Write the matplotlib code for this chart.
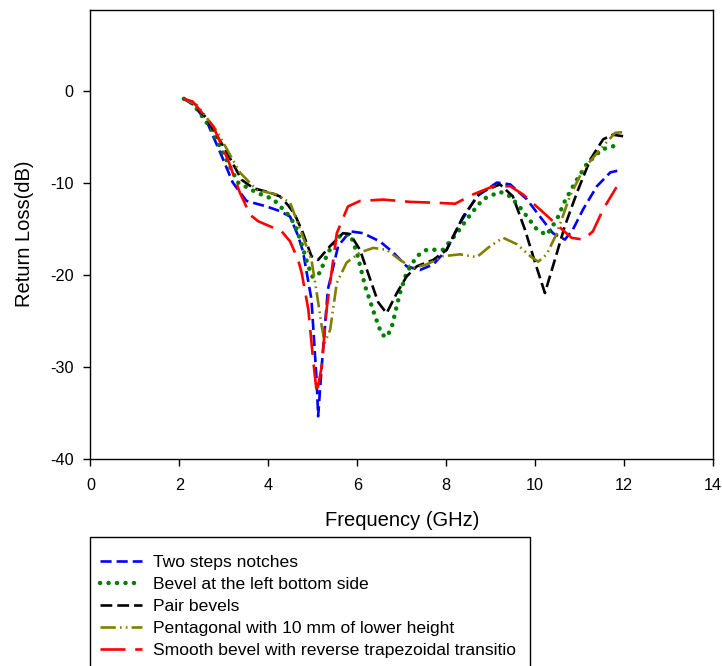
import numpy as np
import matplotlib.pyplot as plt
from matplotlib.patches import Rectangle

plt.rcParams['font.family'] = ['Liberation Sans', 'DejaVu Sans']
plt.rcParams['lines.scale_dashes'] = False
plt.rcParams['axes.unicode_minus'] = False

# Return loss curves (frequency GHz, dB)
blue_f = [2.1, 2.3, 2.61, 2.95, 3.2, 3.51, 3.96, 4.26, 4.49, 4.67, 4.78, 4.97, 5.09, 5.12, 5.2,
          5.34, 5.57, 5.84, 6.13, 6.51, 6.81, 7.11, 7.41, 7.71, 8.01, 8.31, 8.69, 9.14, 9.44,
          9.81, 10.11, 10.4, 10.67, 10.85, 11.08, 11.39, 11.69, 11.95]
blue_db = [-0.9, -1.5, -3.3, -7.1, -10.0, -12.0, -12.6, -13.1, -13.7, -15.8, -17.5, -22.7, -31.8,
           -35.4, -30.0, -21.6, -16.9, -15.3, -15.5, -16.4, -17.6, -19.1, -19.5, -18.9, -17.3,
           -14.4, -11.5, -10.0, -10.2, -11.8, -13.7, -15.5, -16.2, -15.1, -12.9, -10.4, -8.9, -8.6]

green_f = [2.1, 2.3, 2.72, 3.0, 3.32, 3.74, 4.11, 4.45, 4.6, 4.75, 4.9, 5.0, 5.16, 5.34, 5.61,
           5.84, 5.99, 6.18, 6.4, 6.55, 6.66, 6.77, 6.96, 7.11, 7.34, 7.56, 7.93, 8.24, 8.54,
           8.83, 9.21, 9.44, 9.66, 10.04, 10.26, 10.49, 10.67, 10.9, 11.16, 11.5, 11.87]
green_db = [-0.9, -1.4, -4.2, -7.0, -10.0, -11.1, -11.8, -13.5, -14.6, -16.7, -19.1, -20.3, -19.8,
            -17.6, -15.8, -15.6, -17.6, -21.3, -24.5, -26.5, -26.8, -25.8, -22.0, -19.8, -18.0,
            -17.3, -17.3, -15.5, -13.5, -11.8, -11.0, -11.5, -12.7, -15.1, -15.7, -14.0, -12.0,
            -10.0, -8.0, -6.4, -5.9]

black_f = [2.1, 2.3, 2.61, 3.03, 3.4, 3.66, 4.04, 4.26, 4.45, 4.6, 4.78, 4.97, 5.12, 5.39, 5.68,
           5.84, 6.06, 6.29, 6.47, 6.66, 6.89, 7.11, 7.34, 7.71, 8.01, 8.38, 8.76, 9.21, 9.5,
           9.77, 10.0, 10.22, 10.4, 10.67, 10.94, 11.24, 11.53, 11.75, 12.02]
black_db = [-0.9, -1.4, -3.0, -6.4, -9.7, -10.6, -11.1, -11.5, -12.5, -13.5, -15.5, -18.0, -18.4,
            -16.9, -15.5, -15.6, -17.3, -20.5, -23.0, -24.2, -22.0, -20.2, -19.1, -18.4, -17.3,
            -13.7, -11.1, -10.2, -11.5, -15.1, -18.7, -22.0, -19.1, -14.7, -11.1, -7.5, -5.3,
            -4.8, -5.0]

olive_f = [2.1, 2.4, 2.84, 3.36, 3.74, 4.19, 4.49, 4.71, 4.97, 5.09, 5.2, 5.27, 5.39, 5.54, 5.76,
           6.06, 6.36, 6.66, 6.96, 7.25, 7.56, 7.93, 8.31, 8.69, 8.99, 9.28, 9.59, 9.89, 10.07,
           10.26, 10.49, 10.78, 11.08, 11.46, 11.8, 12.02]
olive_db = [-0.9, -1.6, -4.4, -8.9, -10.8, -11.3, -12.2, -15.0, -18.4, -22.0, -25.6, -27.4, -26.0,
            -20.9, -18.7, -17.6, -17.1, -17.3, -18.4, -19.3, -18.9, -18.0, -17.8, -18.1, -16.9,
            -16.0, -16.7, -18.0, -18.6, -17.8, -15.5, -11.5, -8.6, -6.4, -4.6, -4.5]

red_f = [2.1, 2.3, 2.54, 2.76, 3.09, 3.36, 3.59, 3.77, 4.3, 4.49, 4.67, 4.75, 4.9, 5.0, 5.09,
         5.2, 5.31, 5.54, 5.79, 6.06, 6.58, 7.19, 7.79, 8.2, 8.6, 9.06, 9.44, 9.73, 10.15, 10.4,
         10.82, 11.08, 11.3, 11.53, 11.83]
red_db = [-0.9, -1.2, -2.6, -3.9, -7.5, -11.1, -13.5, -14.2, -15.3, -16.4, -18.4, -19.8, -23.8,
          -28.9, -32.9, -30.0, -23.8, -15.5, -12.6, -12.0, -11.85, -12.1, -12.2, -12.3, -11.3,
          -10.4, -10.4, -11.3, -13.1, -14.2, -16.0, -16.2, -15.3, -12.9, -10.5]

labels = ['Two steps notches', 'Bevel at the left bottom side', 'Pair bevels',
          'Pentagonal with 10 mm of lower height',
          'Smooth bevel with reverse trapezoidal transitio']

W, H = 722, 666
fig = plt.figure(figsize=(W / 100, H / 100), dpi=100)
ax = fig.add_axes([0.1253, 0.3113, 0.8622, 0.6744])

ax.plot(blue_f, blue_db, color='#0000ff', lw=1.9, linestyle=(0, (8, 3.6)), label=labels[0])
ax.plot(green_f, green_db, color='#008000', lw=3.2, linestyle=(0, (0.1, 6.0)),
        dash_capstyle='round', label=labels[1])
ax.plot(black_f, black_db, color='black', lw=1.9, linestyle=(0, (8.5, 3.6)), label=labels[2])
ax.plot(olive_f, olive_db, color='#808000', lw=1.9,
        linestyle=(0, (11, 3, 1.2, 3, 1.2, 3)), label=labels[3])
ax.plot(red_f, red_db, color='#ff0000', lw=1.9, linestyle=(0, (18, 7)), label=labels[4])

ax.set_xlim(0, 14)
ax.set_ylim(-40, 8.8)
ax.set_xticks(np.arange(0, 15, 2))
ax.set_yticks(np.arange(-40, 1, 10))
ax.tick_params(direction='out', length=5, width=1, labelsize=11.7)
ax.tick_params(axis='x', pad=9)
ax.tick_params(axis='y', pad=7)
for s in ax.spines.values():
    s.set_linewidth(1.0)

ax.set_xlabel('Frequency (GHz)', fontsize=14.5, labelpad=13)
ax.set_ylabel('Return Loss(dB)', fontsize=14.5, labelpad=12)

# legend box runs off the bottom of the figure, as in the original
fig.patches.append(Rectangle((90 / W, 1 - 700 / H), 440 / W, 163 / H,
                             transform=fig.transFigure, fill=False,
                             edgecolor='black', lw=1.0))
leg = fig.legend(loc='upper left', bbox_to_anchor=(100 / W, 1 - 555 / H), borderaxespad=0,
                 fontsize=12.6, frameon=False, handlelength=2.4, handletextpad=0.65,
                 labelspacing=0.38, borderpad=0)

fig.savefig('out.png', dpi=100)
